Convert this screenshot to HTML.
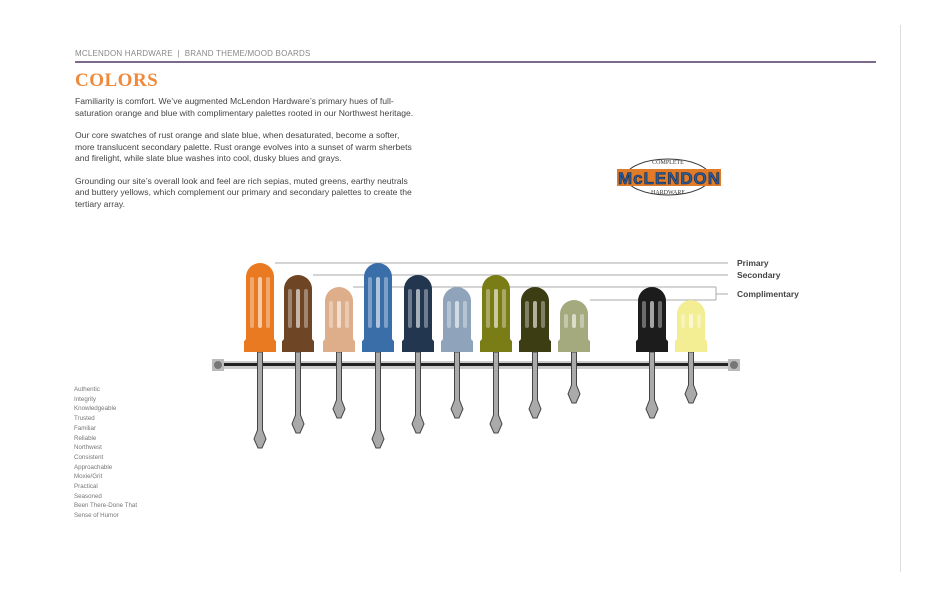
<!DOCTYPE html>
<html><head><meta charset="utf-8"><style>
body{margin:0;background:#fff;width:950px;height:600px;position:relative;overflow:hidden;font-family:"Liberation Sans",sans-serif}
.hdr{position:absolute;left:75px;top:49px;font-size:8px;color:#888;letter-spacing:.2px}
.rule{position:absolute;left:75px;top:61px;width:801px;height:2px;background:#7d6a8a}
.vr{position:absolute;left:900px;top:25px;width:1px;height:547px;background:#ddd}
h1{position:absolute;left:75px;top:70px;margin:0;font-family:"Liberation Serif",serif;font-weight:bold;font-size:19px;color:#ef8a3c;letter-spacing:.5px}
.txt{position:absolute;left:75px;top:96px;width:350px;font-size:8.6px;line-height:11.5px;color:#444}
.txt p{margin:0 0 11px}
.words{position:absolute;left:74px;top:385px;font-size:6.2px;line-height:9.7px;color:#777}
</style></head><body>
<div class="hdr">MCLENDON HARDWARE &nbsp;|&nbsp; BRAND THEME/MOOD BOARDS</div>
<div class="rule"></div><div class="vr"></div>
<h1>COLORS</h1>
<div class="txt">
<p>Familiarity is comfort. We’ve augmented McLendon Hardware’s primary hues of full-<br>saturation orange and blue with complimentary palettes rooted in our Northwest heritage.</p>
<p>Our core swatches of rust orange and slate blue, when desaturated, become a softer,<br>more translucent secondary palette. Rust orange evolves into a sunset of warm sherbets<br>and firelight, while slate blue washes into cool, dusky blues and grays.</p>
<p>Grounding our site’s overall look and feel are rich sepias, muted greens, earthy neutrals<br>and buttery yellows, which complement our primary and secondary palettes to create the<br>tertiary array.</p>
</div>
<div class="words">Authentic<br>Integrity<br>Knowledgeable<br>Trusted<br>Familiar<br>Reliable<br>Northwest<br>Consistent<br>Approachable<br>Moxie/Grit<br>Practical<br>Seasoned<br>Been There-Done That<br>Sense of Humor</div>
<svg width="950" height="600" style="position:absolute;left:0;top:0">
<ellipse cx="668" cy="177" rx="42" ry="18" fill="#fff" stroke="#333" stroke-width="1"/>
<text x="668" y="164" font-family="Liberation Serif,serif" font-size="6" fill="#333" text-anchor="middle">COMPLETE</text>
<text x="668" y="194" font-family="Liberation Serif,serif" font-size="6" fill="#333" text-anchor="middle">HARDWARE</text>
<rect x="617" y="169" width="104" height="17" fill="#e07b2a"/>
<text x="669" y="184" font-family="Liberation Sans,sans-serif" font-weight="bold" font-size="17" fill="#2a5da0" stroke="#1a2a40" stroke-width=".6" text-anchor="middle" textLength="102">McLENDON</text>
<g stroke="#aaa" stroke-width="1" fill="none">
<path d="M275 263H728M313 275H728M353 287H716M590 300H716M716 287V300M716 294H728"/>
</g>
<g font-family="Liberation Sans,sans-serif" font-weight="bold" font-size="8.5" fill="#444">
<text x="737" y="266">Primary</text><text x="737" y="278">Secondary</text><text x="737" y="297">Complimentary</text>
</g>
<rect x="212" y="361" width="528" height="8" fill="#ccc"/>
<rect x="220" y="363" width="512" height="3" fill="#222"/>
<rect x="212" y="359" width="12" height="12" fill="#bbb"/><circle cx="218" cy="365" r="4" fill="#777"/>
<rect x="728" y="359" width="12" height="12" fill="#bbb"/><circle cx="734" cy="365" r="4" fill="#777"/>
<g id="sds"></g>
</svg>
<script>
var d=[[260,263,448,"#e97a22"],[298,275,433,"#6e4525"],[339,287,418,"#deae8a"],[378,263,448,"#3a6ea8"],[418,275,433,"#223650"],[457,287,418,"#8fa4bb"],[496,275,433,"#7a7c15"],[535,287,418,"#3c3d12"],[574,300,403,"#a5aa7e"],[652,287,418,"#1c1c1c"],[691,300,403,"#f3ee94"]];
var s="";
d.forEach(function(a){var c=a[0],t=a[1],b=a[2],f=a[3];
s+='<path d="M'+(c-2.5)+' 352V'+(b-18)+'L'+(c-6)+' '+(b-9)+'L'+(c-2)+' '+b+'H'+(c+2)+'L'+(c+6)+' '+(b-9)+'L'+(c+2.5)+' '+(b-18)+'V352Z" fill="#aaa" stroke="#444" stroke-width="1"/>';
s+='<path d="M'+(c-14)+' '+(t+14)+'A14 14 0 0 1 '+(c+14)+' '+(t+14)+'V338Q'+(c+14)+' 340 '+(c+16)+' 341V352H'+(c-16)+'V341Q'+(c-14)+' 340 '+(c-14)+' 338Z" fill="'+f+'"/>';
for(var i=-1;i<=1;i++)s+='<rect x="'+(c+i*8-2)+'" y="'+(t+14)+'" width="4" height="'+(338-t-24)+'" rx="2" fill="#fff" opacity="'+(i==0?.6:.35)+'"/>';});
document.getElementById("sds").innerHTML=s;
</script>
</body></html>
